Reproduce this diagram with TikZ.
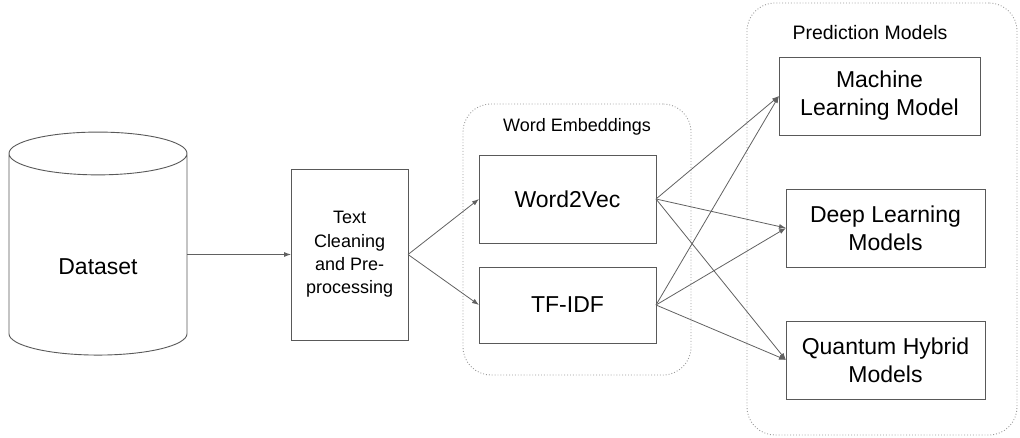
\documentclass[tikz,border=0pt]{standalone}
\usepackage{fontspec}
\setmainfont{Liberation Sans}
\usetikzlibrary{arrows.meta,positioning,shapes.geometric}

\begin{document}
\begin{tikzpicture}[
  x=1pt, y=-1pt,
  >={Latex[length=7pt,width=5pt]},
  node distance=10pt,
  box/.style={
    draw=black!65,
    fill=white,
    line width=0.9pt,
    align=center,
    inner sep=0pt,
    outer sep=0pt,
    font=\fontsize{23}{28}\selectfont
  },
  smalltext/.style={font=\fontsize{18}{23.3}\selectfont},
  group/.style={
    draw=black!40,
    dotted,
    line width=0.9pt,
    rounded corners=28pt,
    inner sep=0pt
  },
  arrow/.style={->, draw=black!62, line width=0.8pt}
]
\useasboundingbox (0,0) rectangle (1020,438);

% Groups in the back
\node[group, minimum width=228pt, minimum height=271pt] (embgroup) at (577,239.5) {};
\node[smalltext, below=11pt of embgroup.north] (emblabel) {Word Embeddings};
\node[group, minimum width=270pt, minimum height=432pt] (predgroup) at (882,219) {};
\node[font=\fontsize{19.5}{24}\selectfont, below=19pt of predgroup.north, xshift=-12pt] (predlabel) {Prediction Models};

% Data source
\node[box, cylinder, shape border rotate=90, aspect=0.54, text height=41pt,
      minimum width=178pt, minimum height=223pt] (data) at (98,254.5) {Dataset};

% Preprocessing
\node[box, smalltext, minimum width=117pt, minimum height=171pt,
      right=104pt of data] (clean) {Text\\Cleaning\\and Pre-\\processing};

% Embeddings
\node[box, minimum width=177pt, minimum height=88pt] (w2v) at (567.5,199) {Word2Vec};
\node[box, minimum width=177pt, minimum height=76pt] (tfidf) at (567.5,305) {TF-IDF};

% Models
\node[box, minimum width=201pt, minimum height=78pt] (ml) at (879.5,96) {Machine\\Learning Model};
\node[box, minimum width=199pt, minimum height=78pt] (dl) at (885.5,228) {Deep Learning\\Models};
\node[box, minimum width=199pt, minimum height=78pt] (qh) at (885.5,360) {Quantum Hybrid\\Models};

% Arrows
\draw[arrow] (data.east) -- (clean.west);
\draw[arrow] (clean.east) -- (w2v.west);
\draw[arrow] (clean.east) -- (tfidf.west);

\foreach \src in {w2v,tfidf}
  \foreach \dst in {ml,dl,qh}
    \draw[arrow] (\src.east) -- (\dst.west);

\end{tikzpicture}
\end{document}
